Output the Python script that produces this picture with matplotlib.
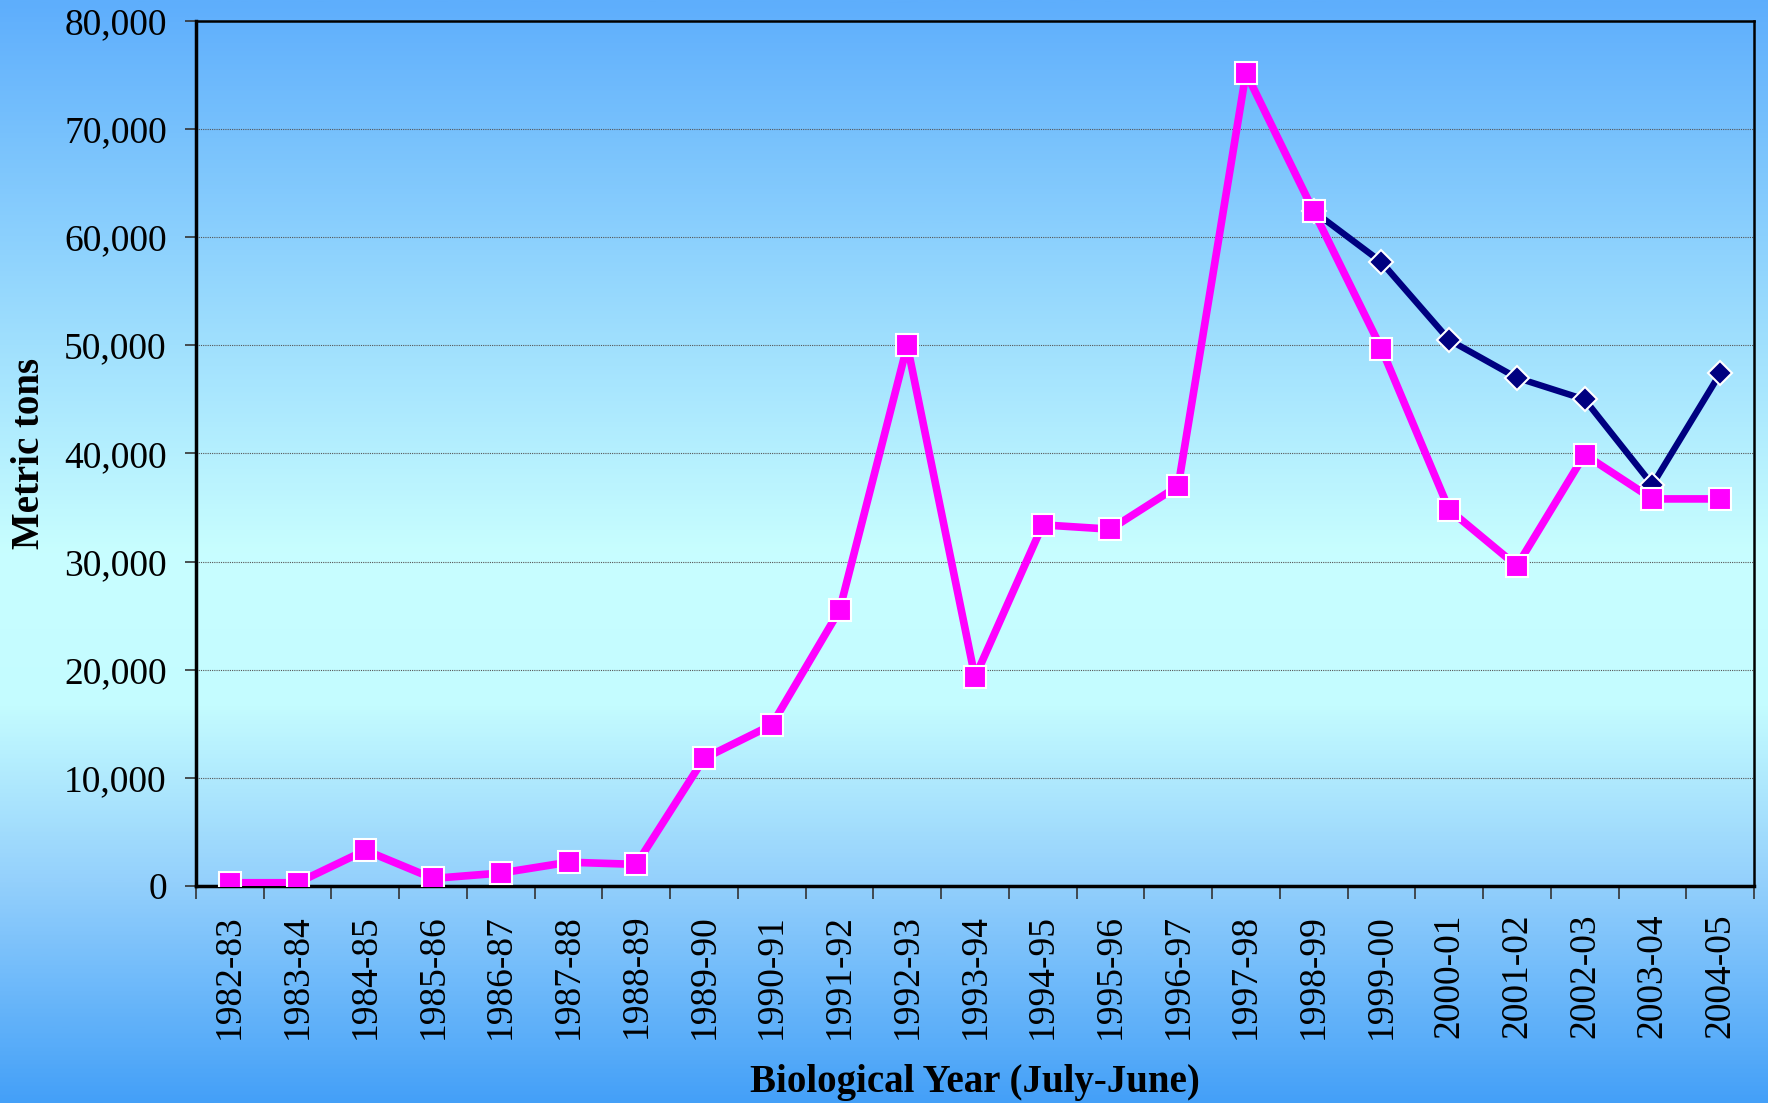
import numpy as np
import matplotlib
matplotlib.use("Agg")
import matplotlib.pyplot as plt
from matplotlib.colors import LinearSegmentedColormap

# datos
years = ["1982-83", "1983-84", "1984-85", "1985-86", "1986-87", "1987-88",
         "1988-89", "1989-90", "1990-91", "1991-92", "1992-93", "1993-94",
         "1994-95", "1995-96", "1996-97", "1997-98", "1998-99", "1999-00",
         "2000-01", "2001-02", "2002-03", "2003-04", "2004-05"]
pink_vals = [300, 300, 3300, 700, 1200, 2200, 2000, 11800, 14900, 25500,
             50000, 19300, 33400, 33000, 37000, 75200, 62400, 49700, 34800,
             29600, 39900, 35800, 35800]
navy_years = ["1998-99", "1999-00", "2000-01", "2001-02", "2002-03",
              "2003-04", "2004-05"]
navy_vals = [62400, 57700, 50500, 47000, 45000, 37100, 47400]

plt.rcParams['font.family'] = ['Liberation Serif', 'DejaVu Serif']

fig = plt.figure(figsize=(17.68, 11.03), dpi=100)

# fondo degradado
bg = fig.add_axes([0, 0, 1, 1], zorder=0)
cmap = LinearSegmentedColormap.from_list("fondo", [
    (0.0, "#5eaefc"), (0.5, "#c8feff"), (0.64, "#c4fcff"),
    (0.8, "#94d0fc"), (1.0, "#44a0f8")])
grad = np.linspace(0, 1, 512).reshape(-1, 1)
bg.imshow(grad, aspect="auto", cmap=cmap, extent=[0, 1, 1, 0])
bg.set_xlim(0, 1)
bg.set_ylim(1, 0)
bg.axis("off")

ax = fig.add_axes([196/1768, 1-886/1103, (1754-196)/1768, (886-21)/1103], zorder=1)
ax.set_facecolor("none")

x = np.arange(len(years))
xn = [years.index(y) for y in navy_years]

ax.plot(xn, navy_vals, color="#000080", lw=4.6, marker="D", ms=12.5,
        mfc="#000080", mec="white", mew=1.5, zorder=3)
ax.plot(x, pink_vals, color="#ff00ff", lw=5.5, marker="s", ms=16.5,
        mfc="#ff00ff", mec="white", mew=1.5, zorder=4)

ax.set_xlim(-0.5, len(years) - 0.5)
ax.set_ylim(0, 80000)
ax.set_yticks(np.arange(0, 80001, 10000))
ax.set_yticklabels([f"{v:,}" for v in range(0, 80001, 10000)], fontsize=27)
ax.yaxis.grid(True, linestyle=(0, (1, 1)), color="#555555", lw=0.8)
ax.set_axisbelow(True)

ax.set_xticks(np.arange(len(years) + 1) - 0.5)
ax.set_xticklabels([])
ax.set_xticks(x, minor=True)
ax.set_xticklabels(years, minor=True, rotation=90, fontsize=27)
ax.tick_params(axis="x", which="minor", length=0, pad=20)
ax.tick_params(axis="x", which="major", length=9, width=1.2, color="#333333")
ax.tick_params(axis="y", length=8, width=1.2, color="#333333", pad=13)

for s in ["left", "bottom"]:
    ax.spines[s].set_linewidth(2.5)
for s in ["top", "right"]:
    ax.spines[s].set_linewidth(1.8)

ax.set_ylabel("Metric tons", fontsize=28, fontweight="bold")
ax.set_xlabel("Biological Year (July-June)", fontsize=28, fontweight="bold",
              va="center")
ax.yaxis.set_label_coords(-0.095, 0.5)
ax.xaxis.set_label_coords(0.5, -0.227)

fig.savefig("out.png", dpi=100)
